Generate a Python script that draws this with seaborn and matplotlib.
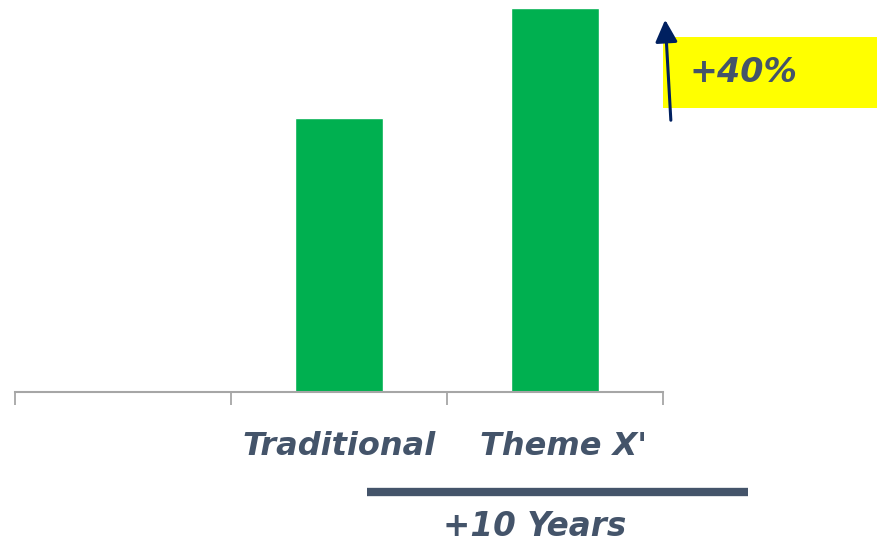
import matplotlib
matplotlib.use("Agg")
import matplotlib.pyplot as plt
from matplotlib.lines import Line2D
from matplotlib.patches import Rectangle, FancyArrowPatch
from matplotlib.transforms import ScaledTranslation
import seaborn as sns

# Data
categories = ["Traditional", "Theme X'"]
slots = ["", "Traditional", "Theme X'"]
values = [100, 140]
uplift_label = "+40%"
span_label = "+10 Years"

TEXT = "#44546A"
GREEN = "#00B050"
NAVY = "#002060"
AXIS_GRAY = "#A6A6A6"

sns.set_theme(style="white")
plt.rcParams["font.family"] = ["DejaVu Sans"]

W, H = 877, 547
fig = plt.figure(figsize=(W / 100, H / 100), dpi=100)
ax = fig.add_axes([15 / W, 1 - 392 / H, 648 / W, 392 / H])

sns.barplot(x=categories, y=values, order=slots, color=GREEN,
            width=0.405, saturation=1, ax=ax)

ax.set_xlim(-0.5, 2.5)
ax.set_ylim(0, 392 / 2.745)
ax.set_yticks([])
ax.set_ylabel("")
ax.set_xlabel("")
for side in ("left", "right", "top"):
    ax.spines[side].set_visible(False)
ax.spines["bottom"].set_color(AXIS_GRAY)
ax.spines["bottom"].set_linewidth(1.5)

# Category boundaries as tick marks, labels centred under each slot
ax.set_xticks([-0.5, 0.5, 1.5, 2.5], minor=True)
ax.tick_params(axis="x", which="minor", direction="out", length=9.5,
               width=1.3, color=AXIS_GRAY, bottom=True)
ax.tick_params(axis="x", which="major", length=0, pad=28)
ax.set_xticks(range(len(slots)))
ax.set_xticklabels(slots, fontsize=23, fontweight="bold", style="oblique",
                   color=TEXT)
lbl = ax.get_xticklabels()[2]
lbl.set_transform(lbl.get_transform() + ScaledTranslation(0.08, 0, fig.dpi_scale_trans))

# Highlight box with growth figure
fig.patches.append(Rectangle((663 / W, 1 - 108 / H), 214 / W, 71 / H,
                             transform=fig.transFigure, facecolor="#FFFF00",
                             edgecolor="none", zorder=1))
fig.text(743 / W, 1 - 73 / H, uplift_label, fontsize=24, fontweight="bold",
         style="oblique", color=TEXT, ha="center", va="center", zorder=3)
fig.patches.append(FancyArrowPatch((671 / W, 1 - 123 / H), (665 / W, 1 - 17 / H),
                                   transform=fig.transFigure,
                                   arrowstyle="-|>,head_length=9,head_width=4.5",
                                   mutation_scale=1.5, color=NAVY, lw=2.2,
                                   zorder=4))

# Bracket line for the time span
fig.add_artist(Line2D([367 / W, 748 / W], [1 - 492 / H, 1 - 492 / H],
                      transform=fig.transFigure, color=TEXT, lw=6,
                      solid_capstyle="butt"))
fig.text(535 / W, 1 - 527 / H, span_label, fontsize=23.5, fontweight="bold",
         style="oblique", color=TEXT, ha="center", va="center")

fig.savefig("out.png", dpi=100, facecolor="white")
